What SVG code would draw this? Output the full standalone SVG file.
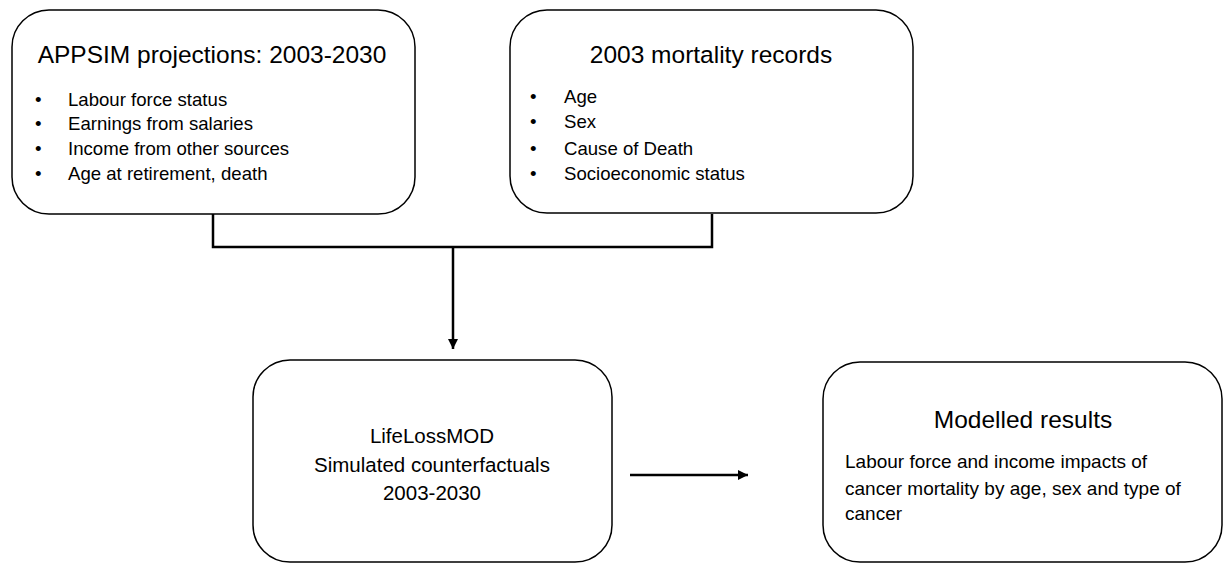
<svg xmlns="http://www.w3.org/2000/svg" width="1226" height="563" viewBox="0 0 1226 563">
<defs>
<marker id="arr" viewBox="0 0 10 10" refX="10" refY="5" markerWidth="4" markerHeight="4" orient="auto" markerUnits="strokeWidth">
<path d="M0,0 L10,5 L0,10 z" fill="#000"/>
</marker>
<style>
.box{fill:#fff;stroke:#000;stroke-width:1.5}
.title{font-family:"Liberation Sans",Arial,sans-serif;font-size:24.5px;fill:#000}
.item{font-family:"Liberation Sans",Arial,sans-serif;font-size:18.6px;fill:#000}
.mod{font-family:"Liberation Sans",Arial,sans-serif;font-size:20.5px;fill:#000}
.body{font-family:"Liberation Sans",Arial,sans-serif;font-size:19px;fill:#000}
.mid{text-anchor:middle}
.conn{fill:none;stroke:#000;stroke-width:2.5}
</style>
</defs>
<rect width="1226" height="563" fill="#fff"/>
<g id="connectors">
<polyline class="conn" points="213,214 213,247 712,247 712,214"/>
<line class="conn" x1="453" y1="247" x2="453" y2="349" marker-end="url(#arr)"/>
<line class="conn" x1="630" y1="475" x2="748" y2="475" marker-end="url(#arr)"/>
</g>
<g id="appsim">
<rect class="box" x="12" y="10" width="403" height="204" rx="37"/>
<text class="title mid" x="212" y="63">APPSIM projections: 2003-2030</text>
<text class="item" x="35" y="106">•</text><text class="item" x="68" y="106">Labour force status</text>
<text class="item" x="35" y="130">•</text><text class="item" x="68" y="130">Earnings from salaries</text>
<text class="item" x="35" y="155">•</text><text class="item" x="68" y="155">Income from other sources</text>
<text class="item" x="35" y="180">•</text><text class="item" x="68" y="180">Age at retirement, death</text>
</g>
<g id="mortality">
<rect class="box" x="510" y="10" width="403" height="203" rx="37"/>
<text class="title mid" x="711" y="63">2003 mortality records</text>
<text class="item" x="530" y="103">•</text><text class="item" x="564" y="103">Age</text>
<text class="item" x="530" y="128">•</text><text class="item" x="564" y="128">Sex</text>
<text class="item" x="530" y="155">•</text><text class="item" x="564" y="155">Cause of Death</text>
<text class="item" x="530" y="180">•</text><text class="item" x="564" y="180">Socioeconomic status</text>
</g>
<g id="lifelossmod">
<rect class="box" x="253" y="360" width="359" height="202" rx="37"/>
<text class="mod mid" x="432" y="443">LifeLossMOD</text>
<text class="mod mid" x="432" y="472">Simulated counterfactuals</text>
<text class="mod mid" x="432" y="500">2003-2030</text>
</g>
<g id="results">
<rect class="box" x="823" y="362" width="399" height="200" rx="37"/>
<text class="title mid" x="1023" y="428">Modelled results</text>
<text class="body" x="845" y="468">Labour force and income impacts of</text>
<text class="body" x="845" y="495">cancer mortality by age, sex and type of</text>
<text class="body" x="845" y="520">cancer</text>
</g>
</svg>
